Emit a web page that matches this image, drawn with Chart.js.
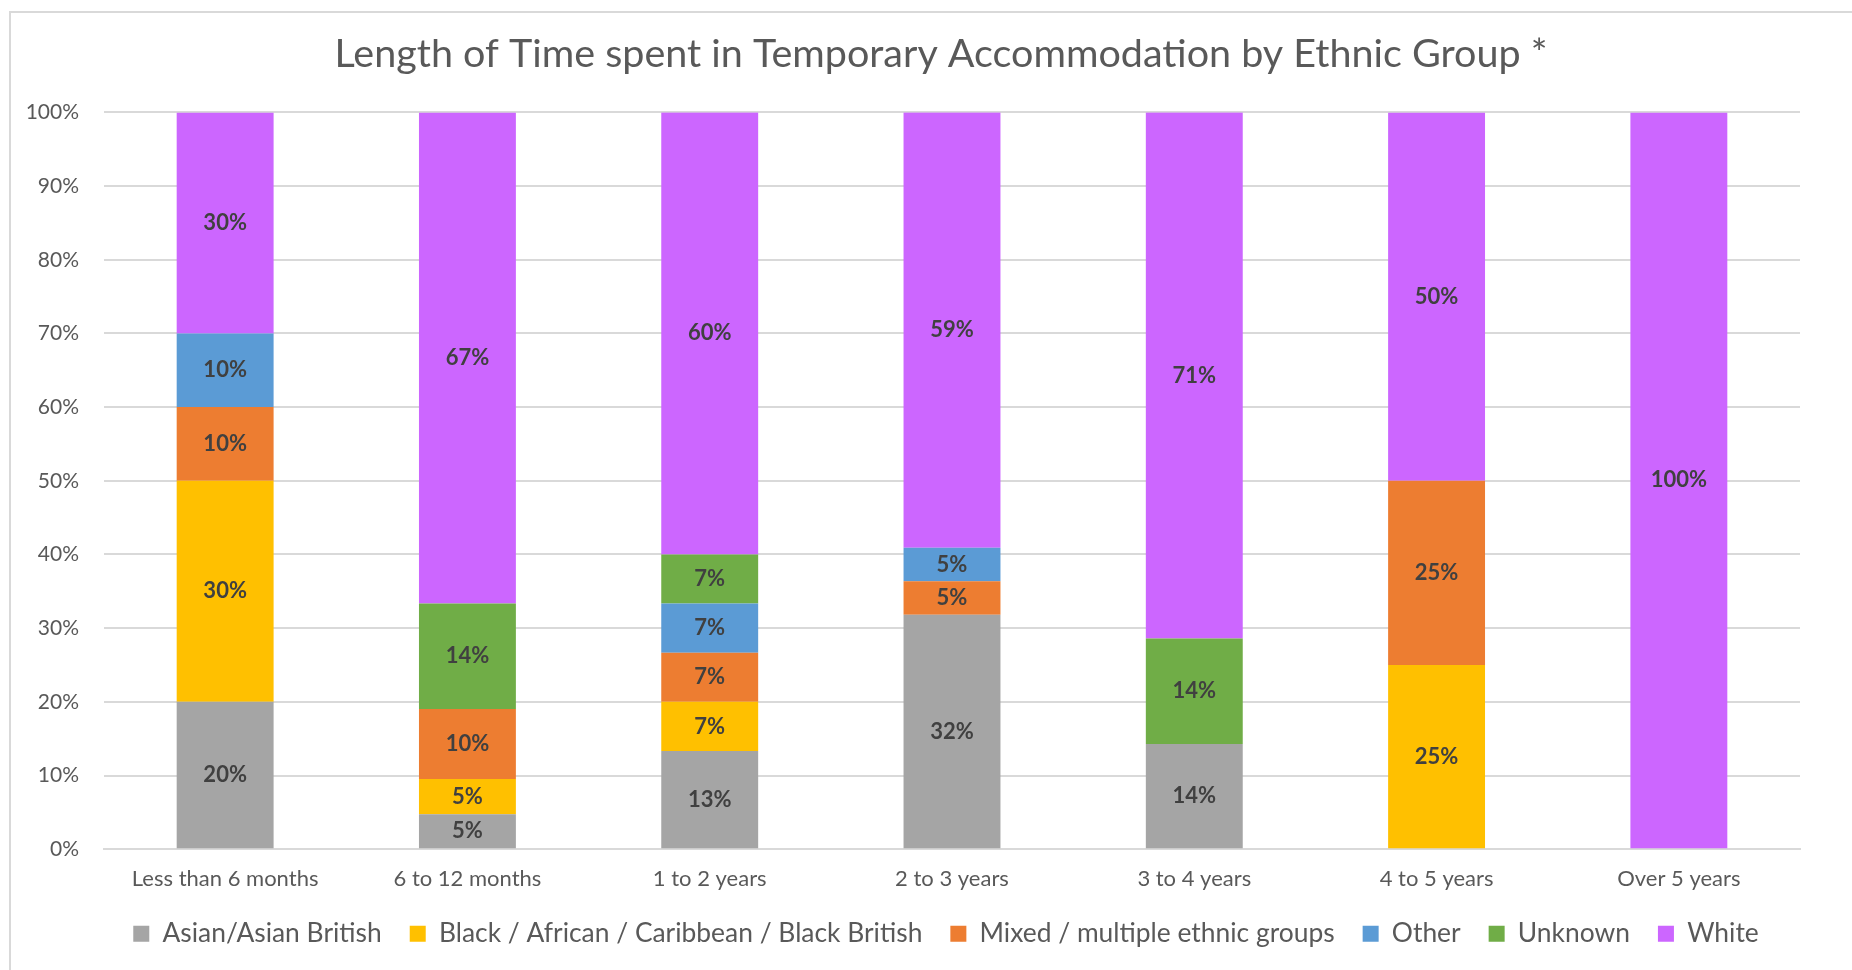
<!DOCTYPE html>
<html>
<head>
<meta charset="utf-8">
<script src="https://cdn.jsdelivr.net/npm/chart.js@4/dist/chart.umd.min.js"></script>
<style>
  html, body { margin: 0; padding: 0; background: #fff; }
  #wrap { position: relative; width: 1852px; height: 970px; overflow: hidden; }
  #frame { position: absolute; left: 9px; top: 11px; width: 1900px; height: 1000px; border: 2px solid #d9d9d9; box-sizing: border-box; }
  #chart { position: absolute; left: 0; top: 0; }
</style>
</head>
<body>
<div id="wrap">
  <div id="frame"></div>
  <canvas id="chart" width="1852" height="970"></canvas>
</div>
<script>
// categories (length of stay)
const categories = ['Less than 6 months', '6 to 12 months', '1 to 2 years', '2 to 3 years', '3 to 4 years', '4 to 5 years', 'Over 5 years'];

// share of each ethnic group per category, in %
const asianValues   = [20, 4.76, 13.33, 31.82, 14.29, 0, 0];
const blackValues   = [30, 4.76, 6.67, 0, 0, 25, 0];
const mixedValues   = [10, 9.52, 6.67, 4.55, 0, 25, 0];
const otherValues   = [10, 0, 6.67, 4.55, 0, 0, 0];
const unknownValues = [0, 14.29, 6.67, 0, 14.29, 0, 0];
const whiteValues   = [30, 66.67, 60, 59.09, 71.43, 50, 100];

const yTicks = [0, 10, 20, 30, 40, 50, 60, 70, 80, 90, 100];

const FONT = 'Lato, "Open Sans", sans-serif';
const TEXT = '#595959';
const LEGEND_TRIM = 9;   // legend sits closer to the axis labels than its item padding allows
const TITLE_SHIFT = 76;  // title and legend are centred on the whole frame, not on the plot
const LEGEND_SHIFT = 86;

// draws the rounded % in the middle of every non-zero segment
const segmentLabels = {
  id: 'segmentLabels',
  afterDatasetsDraw(chart) {
    const ctx = chart.ctx;
    ctx.save();
    ctx.font = 'bold 22px ' + FONT;
    ctx.fillStyle = '#404040';
    ctx.textAlign = 'center';
    ctx.textBaseline = 'middle';
    chart.data.datasets.forEach((ds, i) => {
      const meta = chart.getDatasetMeta(i);
      meta.data.forEach((bar, j) => {
        const v = ds.data[j];
        if (!v) return;
        ctx.fillText(Math.round(v) + '%', bar.x, (bar.y + bar.base) / 2);
      });
    });
    ctx.restore();
  }
};

// nudges title and legend into place after Chart.js has laid them out
const boxNudge = {
  id: 'boxNudge',
  beforeInit(chart) {
    const legend = chart.legend;
    const fit = legend.fit;
    legend.fit = function () { fit.call(this); this.height -= LEGEND_TRIM; };
  },
  afterLayout(chart) {
    chart.legend.top -= LEGEND_TRIM;
    chart.legend.left += LEGEND_SHIFT;
    chart.titleBlock.left += TITLE_SHIFT;
  }
};

function series(label, data, color) {
  return { label: label, data: data, backgroundColor: color, borderWidth: 0,
           barPercentage: 0.4, categoryPercentage: 1.0 };
}

new Chart(document.getElementById('chart'), {
  type: 'bar',
  data: {
    labels: categories,
    datasets: [
      series('Asian/Asian British', asianValues, '#a5a5a5'),
      series('Black / African / Caribbean / Black British', blackValues, '#ffc000'),
      series('Mixed / multiple ethnic groups', mixedValues, '#ed7d31'),
      series('Other', otherValues, '#5b9bd5'),
      series('Unknown', unknownValues, '#70ad47'),
      series('White', whiteValues, '#cc66ff')
    ]
  },
  options: {
    responsive: false,
    animation: false,
    layout: { padding: { left: 6, right: 52, top: 0, bottom: 13 } },
    plugins: {
      title: {
        display: true,
        text: 'Length of Time spent in Temporary Accommodation by Ethnic Group *',
        color: TEXT,
        font: { family: FONT, size: 39.5, weight: 'normal' },
        padding: { top: 31, bottom: 34 }
      },
      legend: {
        position: 'bottom',
        labels: {
          color: TEXT,
          font: { family: FONT, size: 26.4 },
          boxWidth: 16,
          boxHeight: 16,
          padding: 28
        }
      },
      tooltip: { enabled: false }
    },
    scales: {
      x: {
        stacked: true,
        grid: { display: false },
        border: { color: '#d9d9d9', width: 2 },
        ticks: { color: TEXT, font: { family: FONT, size: 22 }, padding: 9 }
      },
      y: {
        stacked: true,
        min: 0,
        max: 100,
        afterBuildTicks(scale) { scale.ticks = yTicks.map(v => ({ value: v })); },
        afterFit(scale) { scale.width = 98; },
        ticks: { color: TEXT, font: { family: FONT, size: 21 }, padding: 25, callback: v => v + '%' },
        grid: { color: '#d9d9d9', lineWidth: 2, drawTicks: false },
        border: { display: false }
      }
    }
  },
  plugins: [segmentLabels, boxNudge]
});
</script>
</body>
</html>
